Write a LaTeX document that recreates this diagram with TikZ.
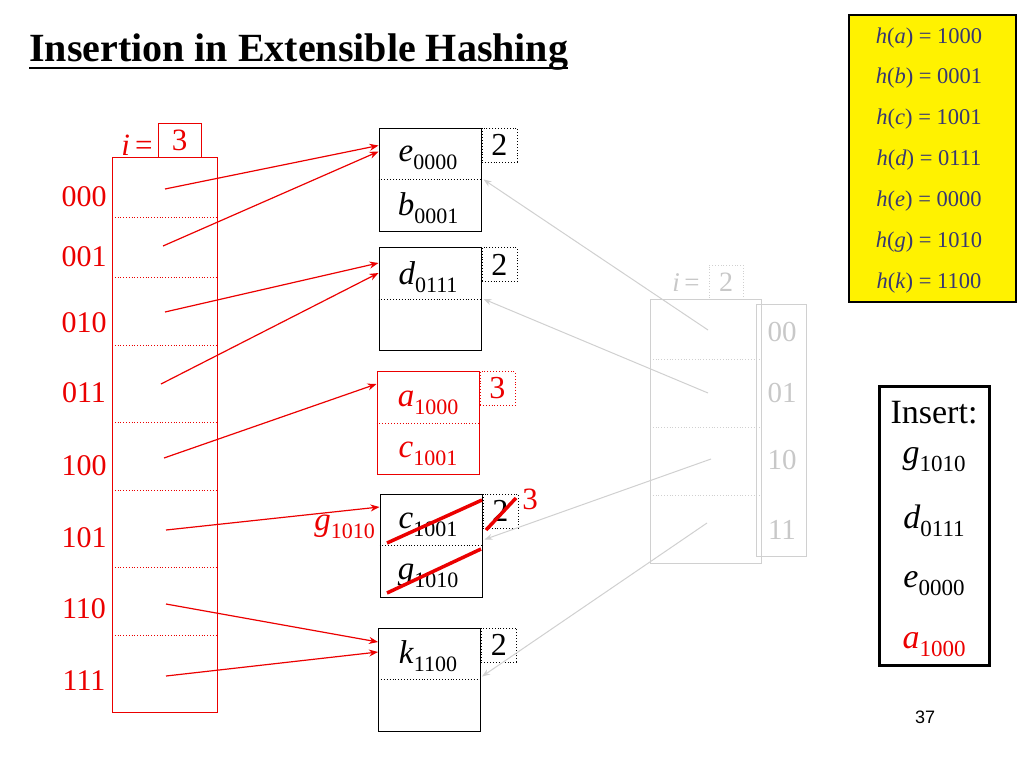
\documentclass[tikz,border=0pt]{standalone}
\usepackage{fontspec}
\setmainfont{Liberation Serif}
\setsansfont{Liberation Sans}
\usetikzlibrary{arrows.meta}
\definecolor{rd}{RGB}{235,0,0}
\definecolor{lg}{RGB}{208,208,208}
\definecolor{tg}{RGB}{200,200,200}
\definecolor{nv}{RGB}{55,55,115}
\newcommand{\vsb}[2]{\textit{#1}\raisebox{-8pt}{\fontsize{22}{22}\selectfont #2}}
\newcommand{\vsi}[2]{\textit{#1}\raisebox{-8pt}{\fontsize{23}{23}\selectfont #2}}
\newcommand{\hh}[2]{\textit{h}(\textit{#1}) = #2}
\tikzset{
  txt/.style={inner sep=0pt},
  bucket/.style={draw, line width=1pt, minimum width=102pt, minimum height=103pt, inner sep=0pt},
  depth/.style={draw, dotted, line width=0.9pt, minimum width=35pt, minimum height=34pt, inner sep=0pt, anchor=north west, font=\fontsize{32}{32}\selectfont},
  btxt/.style={inner sep=0pt, font=\fontsize{33}{33}\selectfont},
  dlabel/.style={inner sep=0pt, text=rd, font=\fontsize{30}{30}\selectfont},
  olabel/.style={inner sep=0pt, text=tg, font=\fontsize{29}{29}\selectfont},
  ptr/.style={draw=rd, line width=1.2pt, -{Stealth[length=9pt,width=7pt]}},
  oldptr/.style={draw=lg, line width=1pt, -{Stealth[length=8pt,width=6pt]}},
  strike/.style={draw=rd, line width=3.5pt},
  hashtxt/.style={inner sep=0pt, text=nv, font=\fontsize{22.5}{22.5}\selectfont},
  instxt/.style={inner sep=0pt, font=\fontsize{34}{34}\selectfont}
}
\begin{document}
\begin{tikzpicture}[x=1pt,y=-1pt]
\useasboundingbox (0,0) rectangle (1024,768);
% title
\node[txt, anchor=base west, font=\bfseries\fontsize{40}{40}\selectfont] (title) at (29,62) {Insertion in Extensible Hashing};
\draw[line width=2.2pt] ([yshift=-6pt]title.base west) -- ([yshift=-6pt]title.base east);

% hash table box
\node[draw, line width=2.5pt, fill=yellow, minimum width=167pt, minimum height=287pt] (hbox) at (932.5,158.5) {};
\node[hashtxt] (h1) at (929,38) {\hh{a}{1000}};
\node[hashtxt] (h2) at (929,78) {\hh{b}{0001}};
\node[hashtxt] (h3) at (929,119) {\hh{c}{1001}};
\node[hashtxt] (h4) at (929,160) {\hh{d}{0111}};
\node[hashtxt] (h5) at (929,201) {\hh{e}{0000}};
\node[hashtxt] (h6) at (929,242) {\hh{g}{1010}};
\node[hashtxt] (h7) at (929,283) {\hh{k}{1100}};

% new directory
\node[draw=rd, line width=1pt, minimum width=105pt, minimum height=555pt, inner sep=0pt] (dir) at (164.5,434.5) {};
\foreach \yy in {217,277,345,422,490,567,635}
  \draw[rd, dotted, line width=0.8pt] (112,\yy) -- (217,\yy);
\node[txt, text=rd, font=\fontsize{31}{31}\selectfont] (ieq) at (137,145) {\textit{i}\,=};
\node[draw=rd, line width=1pt, minimum width=43pt, minimum height=34pt, inner sep=0pt, text=rd, font=\fontsize{31}{31}\selectfont] (gd) at (179.5,140) {3};
\node[dlabel] (l000) at (84,197) {000};
\node[dlabel] (l001) at (84,257) {001};
\node[dlabel] (l010) at (84,323) {010};
\node[dlabel] (l011) at (84,393) {011};
\node[dlabel] (l100) at (84,466) {100};
\node[dlabel] (l101) at (84,538) {101};
\node[dlabel] (l110) at (84,609) {110};
\node[dlabel] (l111) at (84,681) {111};
\coordinate (s000) at (165,189);
\coordinate (s001) at (163,246);
\coordinate (s010) at (165,312);
\coordinate (s011) at (161,384);
\coordinate (s100) at (164,458);
\coordinate (s101) at (166,530);
\coordinate (s110) at (166,604);
\coordinate (s111) at (166,676);

% buckets
\node[bucket] (b1) at (430,179.5) {};
\draw[dotted, line width=0.9pt] (b1.west) -- (b1.east);
\node[depth] (d1) at (b1.north east) {2};
\node[btxt] (t1a) at (428,158) {\vsb{e}{0000}};
\node[btxt] (t1b) at (428,208) {\vsb{b}{0001}};

\node[bucket] (b2) at (430,299) {};
\draw[dotted, line width=0.9pt] (b2.west) -- (b2.east);
\node[depth] (d2) at (b2.north east) {2};
\node[btxt] (t2a) at (428,277) {\vsb{d}{0111}};

\node[bucket, draw=rd] (b3) at (428,423) {};
\draw[rd, dotted, line width=0.9pt] (b3.west) -- (b3.east);
\node[depth, draw=rd, text=rd] (d3) at (b3.north east) {3};
\node[btxt, text=rd] (t3a) at (428,403) {\vsb{a}{1000}};
\node[btxt, text=rd] (t3b) at (428,454) {\vsb{c}{1001}};

\node[bucket] (b4) at (431,545.5) {};
\draw[dotted, line width=0.9pt] (b4.west) -- (b4.east);
\node[depth] (d4) at (b4.north east) {2};
\node[btxt] (t4a) at (428,525) {\vsb{c}{1001}};
\node[btxt] (t4b) at (428,576) {\vsb{g}{1010}};
\node[btxt, text=rd, anchor=east] (gnew) at (375,527) {\vsb{g}{1010}};
\node[txt, text=rd, font=\fontsize{31}{31}\selectfont] (d4new) at (530,499) {3};

\node[bucket] (b5) at (429.5,679.5) {};
\draw[dotted, line width=0.9pt] (b5.west) -- (b5.east);
\node[depth] (d5) at (b5.north east) {2};
\node[btxt] (t5a) at (428,656) {\vsb{k}{1100}};

% strike-outs
\draw[strike] (387,543) -- (482,500);
\draw[strike] (387,593) -- (481,549);
\draw[strike] (486,530) -- (516,498);

% pointers of the new directory
\draw[ptr] (s000) -- ([yshift=34pt]b1.west);
\draw[ptr] (s001) -- ([yshift=28pt]b1.west);
\draw[ptr] (s010) -- ([yshift=36pt]b2.west);
\draw[ptr] (s011) -- ([yshift=26pt]b2.west);
\draw[ptr] (s100) -- ([yshift=39pt]b3.west);
\draw[ptr] (s101) -- ([yshift=38.5pt]b4.west);
\draw[ptr] (s110) -- ([yshift=37.5pt]b5.west);
\draw[ptr] (s111) -- ([yshift=27.5pt]b5.west);

% old directory (faded)
\node[draw=lg, line width=0.8pt, minimum width=50pt, minimum height=252pt, inner sep=0pt] (ocol) at (781,430) {};
\node[draw=lg, line width=0.8pt, minimum width=111pt, minimum height=264pt, inner sep=0pt] (odir) at (705.5,431) {};
\foreach \yy in {359,427,495}
  \draw[lg, dotted, line width=0.8pt] (650,\yy) -- (761,\yy);
\node[txt, text=tg, font=\fontsize{27}{27}\selectfont] (oieq) at (686,283) {\textit{i}\,=};
\node[draw=lg, dotted, line width=0.8pt, minimum width=34pt, minimum height=34pt, inner sep=0pt, text=tg, font=\fontsize{28}{28}\selectfont] (ogd) at (726,282) {2};
\node[olabel] (o00) at (782,332) {00};
\node[olabel] (o01) at (782,393) {01};
\node[olabel] (o10) at (782,460) {10};
\node[olabel] (o11) at (782,530) {11};
\coordinate (os00) at (708,330);
\coordinate (os01) at (708,393);
\coordinate (os10) at (711,459);
\coordinate (os11) at (707,523);
\draw[oldptr] (os00) -- ([xshift=2pt]b1.east);
\draw[oldptr] (os01) -- ([xshift=2pt]b2.east);
\draw[oldptr] (os10) -- ([xshift=2pt,yshift=6pt]b4.east);
\draw[oldptr] (os11) -- ([xshift=1pt,yshift=3pt]b5.east);

% insert box
\node[draw, line width=3pt, minimum width=110pt, minimum height=279pt] (ibox) at (934,525.5) {};
\node[instxt] (ins) at (934,413) {Insert:};
\node[instxt] (i1) at (934,460) {\vsi{g}{1010}};
\node[instxt] (i2) at (934,521) {\vsi{d}{0111}};
\node[instxt] (i3) at (934,584) {\vsi{e}{0000}};
\node[instxt, text=rd] (i4) at (934,645) {\vsi{a}{1000}};

% page number
\node[txt, font=\sffamily\fontsize{18}{18}\selectfont] (pg) at (925,717) {37};
\end{tikzpicture}
\end{document}
